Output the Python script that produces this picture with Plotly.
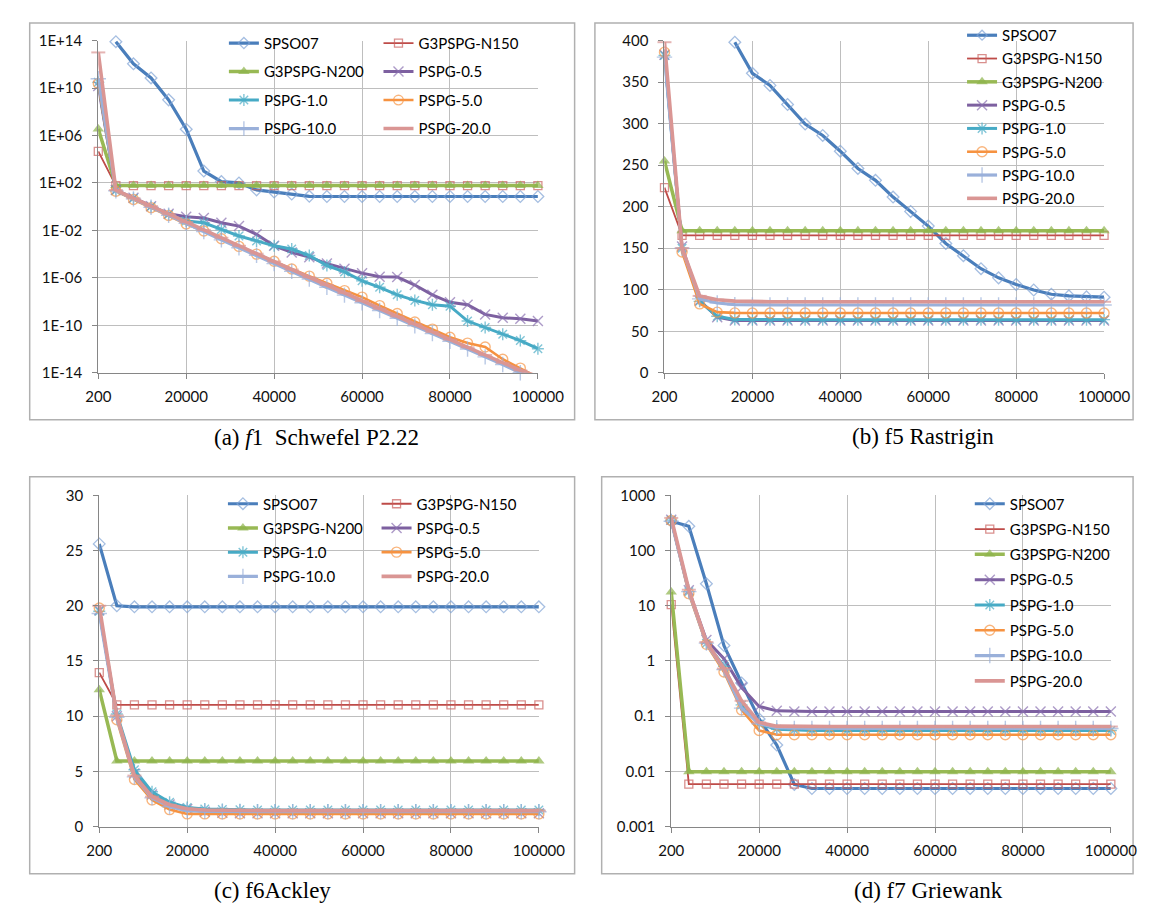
import plotly.graph_objects as go

W, H = 1153, 906

X = ['200', '4000', '8000', '12000', '16000', '20000', '24000', '28000', '32000', '36000',
     '40000', '44000', '48000', '52000', '56000', '60000', '64000', '68000', '72000', '76000',
     '80000', '84000', '88000', '92000', '96000', '100000']
X_TICKS = ['200', '20000', '40000', '60000', '80000', '100000']

SERIES = ['SPSO07', 'G3PSPG-N150', 'G3PSPG-N200', 'PSPG-0.5', 'PSPG-1.0', 'PSPG-5.0', 'PSPG-10.0', 'PSPG-20.0']

# (a) f1 Schwefel P2.22 (log scale)
A_SPSO07 = [None, 8e13, 1.1e12, 7e10, 1e9, 3.4e6, 1e3, 1.3e2, 1e2, 26, 17, 11.5, 7.5, 7.2, 7.2, 7.2,
            7.2, 7.2, 7.2, 7.2, 7.2, 7.2, 7.2, 7.2, 7.2, 7.2]
A_N150 = [4.5e4, 60, 60, 60, 60, 60, 60, 60, 60, 60, 60, 60, 60, 60, 60, 60, 60, 60, 60, 60, 60, 60, 60, 60, 60, 60]
A_N200 = [3.5e6, 60, 60, 60, 60, 60, 60, 60, 60, 60, 60, 60, 60, 60, 60, 60, 60, 60, 60, 60, 60, 60, 60, 60, 60, 60]
A_P05 = [1.5e10, 25, 5.6, 1.1, 0.25, 0.14, 0.11, 0.044, 0.023, 4.7e-3, 5e-4, 1.4e-4, 5.6e-5, 1.6e-5, 6e-6,
         2.5e-6, 1.26e-6, 1.2e-6, 2.5e-7, 3.7e-8, 8.7e-9, 5.5e-9, 8.3e-10, 4.4e-10, 3.6e-10, 2.3e-10]
A_P10 = [3e10, 22, 5, 1.0, 0.22, 0.063, 0.044, 0.012, 3.4e-3, 1.3e-3, 5e-4, 2.7e-4, 7.6e-5, 1.1e-5, 3.2e-6,
         5.6e-7, 1.6e-7, 3.7e-8, 1.26e-8, 5.5e-9, 4.1e-9, 2.3e-10, 6.6e-11, 1.8e-11, 5.2e-12, 1.07e-12]
A_P50 = [2.4e10, 20, 4, 0.8, 0.18, 0.035, 8.9e-3, 2e-3, 4.5e-4, 1e-4, 2.5e-5, 5.6e-6, 1.4e-6, 3.5e-7, 8.5e-8,
         2.4e-8, 4.6e-9, 1e-9, 1.9e-10, 4.8e-11, 1e-11, 3.2e-12, 1.5e-12, 1.4e-13, 2.5e-14, 4e-15]
A_P100 = [6e10, 22, 4.5, 0.9, 0.19, 0.04, 8e-3, 1.6e-3, 3.5e-4, 8e-5, 1.6e-5, 3.5e-6, 8e-7, 1.6e-7, 3.5e-8,
          8e-9, 1.8e-9, 4e-10, 9e-11, 2e-11, 4.5e-12, 1e-12, 2.2e-13, 5e-14, 1e-14, 2e-15]
A_P200 = [1e13, 25, 5.2, 1.1, 0.24, 0.05, 0.011, 2.4e-3, 5e-4, 1.1e-4, 2.4e-5, 5e-6, 1.1e-6, 2.5e-7, 5.2e-8,
          1.1e-8, 2.5e-9, 5.6e-10, 1.26e-10, 2.8e-11, 6.3e-12, 1.4e-12, 3.2e-13, 7e-14, 1.6e-14, 5e-15]

# (b) f5 Rastrigin
B_SPSO07 = [None, None, None, None, 398, 360.6, 346, 323, 299.5, 285.7, 266.8, 246, 231.7, 211.6, 194.3,
            176.6, 155.7, 141, 125.3, 114.3, 106.4, 99.7, 94.6, 92.6, 91.4, 91.0]
B_N150 = [223, 165.5, 165.5, 165.5, 165.5, 165.5, 165.5, 165.5, 165.5, 165.5, 165.5, 165.5, 165.5, 165.5,
          165.5, 165.5, 165.5, 165.5, 165.5, 165.5, 165.5, 165.5, 165.5, 165.5, 165.5, 165.5]
B_N200 = [255, 171, 171, 171, 171, 171, 171, 171, 171, 171, 171, 171, 171, 171, 171, 171, 171, 171, 171,
          171, 171, 171, 171, 171, 171, 171]
B_P05 = [383, 152, 87, 67, 63, 63, 63, 63, 63, 63, 63, 63, 63, 63, 63, 63, 63, 63, 63, 63, 63, 63, 63, 63, 63, 63]
B_P10 = [382, 150, 86, 68, 64.2, 64, 64, 64, 64, 64, 64, 64, 64, 64, 64, 64, 64, 64, 64, 64, 64, 64, 64, 64, 64, 64]
B_P50 = [386, 145.5, 83, 73, 72.1, 72, 72, 72, 72, 72, 72, 72, 72, 72, 72, 72, 72, 72, 72, 72, 72, 72, 72, 72, 72, 72]
B_P100 = [380, 150, 89, 84, 82, 81.6, 81.6, 81.6, 81.6, 81.6, 81.6, 81.6, 81.6, 81.6, 81.6, 81.6, 81.6, 81.6,
          81.6, 81.6, 81.6, 81.6, 81.6, 81.6, 81.6, 81.6]
B_P200 = [398, 150, 92.6, 88, 86.3, 85.5, 85.5, 85.5, 85.5, 85.5, 85.5, 85.5, 85.5, 85.5, 85.5, 85.5, 85.5,
          85.5, 85.5, 85.5, 85.5, 85.5, 85.5, 85.5, 85.5, 85.5]

# (c) f6 Ackley
C_SPSO07 = [25.6, 20.0, 19.9, 19.9, 19.9, 19.9, 19.9, 19.9, 19.9, 19.9, 19.9, 19.9, 19.9, 19.9, 19.9, 19.9,
            19.9, 19.9, 19.9, 19.9, 19.9, 19.9, 19.9, 19.9, 19.9, 19.9]
C_N150 = [13.95, 11.03, 11.03, 11.03, 11.03, 11.03, 11.03, 11.03, 11.03, 11.03, 11.03, 11.03, 11.03, 11.03,
          11.03, 11.03, 11.03, 11.03, 11.03, 11.03, 11.03, 11.03, 11.03, 11.03, 11.03, 11.03]
C_N200 = [12.4, 5.95, 5.95, 5.95, 5.95, 5.95, 5.95, 5.95, 5.95, 5.95, 5.95, 5.95, 5.95, 5.95, 5.95, 5.95,
          5.95, 5.95, 5.95, 5.95, 5.95, 5.95, 5.95, 5.95, 5.95, 5.95]
C_P05 = [19.6, 10.0, 4.8, 2.9, 2.0, 1.6, 1.35, 1.25, 1.2, 1.2, 1.2, 1.2, 1.2, 1.2, 1.2, 1.2, 1.2, 1.2, 1.2,
         1.2, 1.2, 1.2, 1.2, 1.2, 1.2, 1.2]
C_P10 = [19.5, 10.2, 5.15, 3.15, 2.2, 1.74, 1.6, 1.55, 1.52, 1.5, 1.5, 1.5, 1.5, 1.5, 1.5, 1.5, 1.5, 1.5,
         1.5, 1.5, 1.5, 1.5, 1.5, 1.5, 1.5, 1.5]
C_P50 = [19.8, 9.68, 4.27, 2.42, 1.54, 1.15, 1.15, 1.15, 1.15, 1.15, 1.15, 1.15, 1.15, 1.15, 1.15, 1.15,
         1.15, 1.15, 1.15, 1.15, 1.15, 1.15, 1.15, 1.15, 1.15, 1.15]
C_P100 = [19.3, 9.9, 4.5, 2.6, 1.8, 1.45, 1.38, 1.35, 1.35, 1.35, 1.35, 1.35, 1.35, 1.35, 1.35, 1.35, 1.35,
          1.35, 1.35, 1.35, 1.35, 1.35, 1.35, 1.35, 1.35, 1.35]
C_P200 = [20.0, 10.06, 4.62, 2.71, 1.98, 1.62, 1.5, 1.47, 1.45, 1.45, 1.45, 1.45, 1.45, 1.45, 1.45, 1.45,
          1.45, 1.45, 1.45, 1.45, 1.45, 1.45, 1.45, 1.45, 1.45, 1.45]

# (d) f7 Griewank (log scale)
D_SPSO07 = [340, 275, 25, 1.9, 0.4, 0.089, 0.03, 0.0058, 0.0049, 0.0049, 0.0049, 0.0049, 0.0049, 0.0049,
            0.0049, 0.0049, 0.0049, 0.0049, 0.0049, 0.0049, 0.0049, 0.0049, 0.0049, 0.0049, 0.0049, 0.0049]
D_N150 = [10.5, 0.0059, 0.0059, 0.0059, 0.0059, 0.0059, 0.0059, 0.0059, 0.0059, 0.0059, 0.0059, 0.0059,
          0.0059, 0.0059, 0.0059, 0.0059, 0.0059, 0.0059, 0.0059, 0.0059, 0.0059, 0.0059, 0.0059, 0.0059,
          0.0059, 0.0059]
D_N200 = [17.8, 0.0099, 0.0099, 0.0099, 0.0099, 0.0099, 0.0099, 0.0099, 0.0099, 0.0099, 0.0099, 0.0099,
          0.0099, 0.0099, 0.0099, 0.0099, 0.0099, 0.0099, 0.0099, 0.0099, 0.0099, 0.0099, 0.0099, 0.0099,
          0.0099, 0.0099]
D_P05 = [360, 19, 2.4, 1.1, 0.33, 0.15, 0.125, 0.122, 0.122, 0.122, 0.122, 0.122, 0.122, 0.122, 0.122,
         0.122, 0.122, 0.122, 0.122, 0.122, 0.122, 0.122, 0.122, 0.122, 0.122, 0.122]
D_P10 = [355, 18, 2.1, 0.8, 0.16, 0.072, 0.058, 0.056, 0.055, 0.055, 0.055, 0.055, 0.055, 0.055, 0.055,
         0.055, 0.055, 0.055, 0.055, 0.055, 0.055, 0.055, 0.055, 0.055, 0.055, 0.055]
D_P50 = [350, 16.6, 2.0, 0.63, 0.13, 0.055, 0.046, 0.046, 0.046, 0.046, 0.046, 0.046, 0.046, 0.046, 0.046,
         0.046, 0.046, 0.046, 0.046, 0.046, 0.046, 0.046, 0.046, 0.046, 0.046, 0.046]
D_P100 = [340, 18, 2.1, 0.7, 0.14, 0.073, 0.062, 0.06, 0.06, 0.06, 0.06, 0.06, 0.06, 0.06, 0.06, 0.06,
          0.06, 0.06, 0.06, 0.06, 0.06, 0.06, 0.06, 0.06, 0.06, 0.06]
D_P200 = [390, 19.5, 2.2, 0.73, 0.19, 0.077, 0.066, 0.065, 0.065, 0.065, 0.065, 0.065, 0.065, 0.065,
          0.065, 0.065, 0.065, 0.065, 0.065, 0.065, 0.065, 0.065, 0.065, 0.065, 0.065, 0.065]

PANELS = [
    dict(data=[A_SPSO07, A_N150, A_N200, A_P05, A_P10, A_P50, A_P100, A_P200], lo=1e-14, hi=1e14),
    dict(data=[B_SPSO07, B_N150, B_N200, B_P05, B_P10, B_P50, B_P100, B_P200], lo=0, hi=400),
    dict(data=[C_SPSO07, C_N150, C_N200, C_P05, C_P10, C_P50, C_P100, C_P200], lo=0, hi=30),
    dict(data=[D_SPSO07, D_N150, D_N200, D_P05, D_P10, D_P50, D_P100, D_P200], lo=1e-3, hi=1e3),
]

STYLES = {
    'SPSO07':      dict(lc='#4A7EBB', lw=3.2, sym='diamond-open', ms=9, mc='#7FA2D4', mw=1.3),
    'G3PSPG-N150': dict(lc='#BE4B48', lw=1.8, sym='square-open', ms=8, mc='#C9605D', mw=1.3),
    'G3PSPG-N200': dict(lc='#98B954', lw=3.5, sym='triangle-up', ms=10, mc='#8DB34C', mw=0),
    'PSPG-0.5':    dict(lc='#7D60A0', lw=3.0, sym='x-thin-open', ms=10, mc='#8A70B0', mw=1.4),
    'PSPG-1.0':    dict(lc='#46AAC5', lw=3.0, sym='asterisk-open', ms=10, mc='#4BACC6', mw=1.4),
    'PSPG-5.0':    dict(lc='#F69240', lw=2.6, sym='circle-open', ms=10, mc='#F79646', mw=1.4),
    'PSPG-10.0':   dict(lc='#9AB0DA', lw=3.2, sym='cross-thin-open', ms=11, mc='#9AB0DA', mw=1.4),
    'PSPG-20.0':   dict(lc='#DA9694', lw=3.6, sym='line-ew-open', ms=10, mc='#DA9694', mw=2),
}

COL1 = ['SPSO07', 'G3PSPG-N200', 'PSPG-1.0', 'PSPG-10.0']
LEGENDS = [
    lambda s: 'legend' if s in COL1 else 'legend2',
    lambda s: 'legend3',
    lambda s: 'legend4' if s in COL1 else 'legend5',
    lambda s: 'legend6',
]

AX = ['', '2', '3', '4']

fig = go.Figure()
for p, panel in enumerate(PANELS):
    for name, vals in zip(SERIES, panel['data']):
        st = STYLES[name]
        sizes = [st['ms'] if (v is not None and panel['lo'] * 0.999 <= v <= panel['hi'] * 1.001) else 0
                 for v in vals]
        fig.add_trace(go.Scatter(
            x=X, y=vals, name=name, mode='lines+markers',
            xaxis='x' + AX[p], yaxis='y' + AX[p],
            line=dict(color=st['lc'], width=st['lw']),
            marker=dict(symbol=st['sym'], size=sizes, color=st['mc'],
                        line=dict(color=st['mc'], width=st['mw'])),
            cliponaxis=False, connectgaps=False,
            legend=LEGENDS[p](name), legendgroup=f'{p}-{name}',
            showlegend=True,
        ))

def px_x(v):
    return v / W

def px_y(v):
    return 1 - v / H

GRID = '#BEBEBE'
AXC = '#868686'
TICKFONT = dict(family='Lato', size=15, color='#111111')

xdoms = [(80, 535), (666, 1121), (81, 536), (673, 1128)]
ydoms = [(23, 362), (23, 362), (487, 825), (487, 825)]

layout = dict(
    width=W, height=H, autosize=False,
    margin=dict(l=0, r=0, t=0, b=0),
    paper_bgcolor='white', plot_bgcolor='white',
    showlegend=True,
)

for p in range(4):
    xa = dict(
        type='category', categoryorder='array', categoryarray=X,
        range=[0, len(X) - 1],
        domain=[px_x(xdoms[p][0]), px_x(xdoms[p][1])],
        anchor='y' + AX[p],
        tickmode='array', tickvals=X_TICKS, ticktext=X_TICKS,
        showgrid=True, gridcolor=GRID, gridwidth=1.2,
        showline=True, linecolor=AXC, linewidth=1.2,
        ticks='outside', ticklen=5, tickcolor=AXC,
        tickfont=TICKFONT, ticklabelstandoff=5,
        zeroline=False, fixedrange=True,
    )
    ya = dict(
        domain=[px_y(ydoms[p][1]), px_y(ydoms[p][0])],
        anchor='x' + AX[p],
        showgrid=True, gridcolor=GRID, gridwidth=1.2,
        showline=True, linecolor=AXC, linewidth=1.2,
        ticks='outside', ticklen=5, tickcolor=AXC,
        tickfont=TICKFONT, ticklabelstandoff=7,
        zeroline=False, fixedrange=True,
    )
    if p == 0:
        ya.update(type='log', range=[-14, 14], tickmode='array',
                  tickvals=[1e14, 1e10, 1e6, 1e2, 1e-2, 1e-6, 1e-10, 1e-14],
                  ticktext=['1E+14', '1E+10', '1E+06', '1E+02', '1E-02', '1E-06', '1E-10', '1E-14'])
    elif p == 1:
        ya.update(type='linear', range=[0, 400], tickmode='linear', tick0=0, dtick=50)
    elif p == 2:
        ya.update(type='linear', range=[0, 30], tickmode='linear', tick0=0, dtick=5)
    else:
        ya.update(type='log', range=[-3, 3], tickmode='array',
                  tickvals=[1000, 100, 10, 1, 0.1, 0.01, 0.001],
                  ticktext=['1000', '100', '10', '1', '0.1', '0.01', '0.001'])
    layout['xaxis' + AX[p]] = xa
    layout['yaxis' + AX[p]] = ya

def leg(xpx, ypx, gap):
    return dict(x=px_x(xpx), y=px_y(ypx), xanchor='left', yanchor='top',
                bgcolor='rgba(0,0,0,0)', borderwidth=0, orientation='v',
                font=dict(family='Lato', size=15, color='#000'),
                tracegroupgap=gap, itemwidth=30, traceorder='grouped')

layout['legend'] = leg(210, 9, 6)
layout['legend2'] = leg(370, 9, 6)
layout['legend3'] = leg(974, 1, 0.8)
layout['legend4'] = leg(209, 479, 1.7)
layout['legend5'] = leg(368, 479, 1.7)
layout['legend6'] = leg(982, 479, 2.8)

BOX = '#B0B0B0'
boxes = [(9, 5, 573, 410), (594, 5, 1151, 410), (9, 468, 573, 873), (601, 468, 1151, 873)]
layout['shapes'] = [dict(type='rect', xref='paper', yref='paper', x0=px_x(b[0]), x1=px_x(b[2]),
                         y0=px_y(b[3]), y1=px_y(b[1]), line=dict(color=BOX, width=1.5),
                         fillcolor='rgba(0,0,0,0)', layer='below') for b in boxes]

CAPFONT = dict(family='Liberation Serif', size=23, color='#000')
captions = [('(a) <i>f</i>1  Schwefel P2.22', 306, 428),
            ('(b) f5 Rastrigin', 934, 427),
            ('(c) f6Ackley', 260, 890),
            ('(d) f7 Griewank', 939, 890)]
layout['annotations'] = [dict(text=t, x=px_x(cx), y=px_y(cy), xref='paper', yref='paper',
                              xanchor='center', yanchor='middle', showarrow=False, font=CAPFONT)
                         for t, cx, cy in captions]

fig.update_layout(**layout)
fig.write_html('out.html')
